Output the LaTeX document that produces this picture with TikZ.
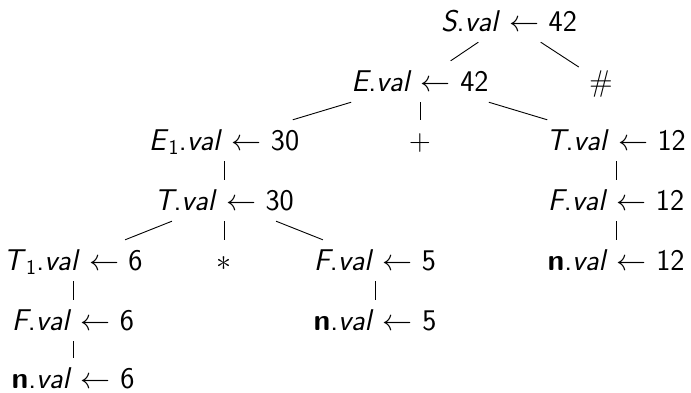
\RequirePackage{fix-cm}
\documentclass[tikz,border=0pt]{standalone}
\newcommand{\attr}[2]{#1.\textit{val} $\leftarrow$ #2}

\begin{document}
\begin{tikzpicture}[x=1pt, y=-1pt,
  val/.style={font=\fontsize{30}{36}\selectfont\sffamily, anchor=base,
    inner xsep=3pt, inner ysep=6pt, text height=24pt, text depth=5pt},
  edge/.style={line width=0.9pt}]
\useasboundingbox (0,0) rectangle (691,392);
\node[val] (s) at (509,31) {\attr{\textit{S}}{42}};
\node[val] (e) at (420,91) {\attr{\textit{E}}{42}};
\node[val, minimum width=44pt] (hash) at (601,91) {$\#$};
\node[val] (e1) at (224,150) {\attr{\textit{E}\textsubscript{1}}{30}};
\node[val] (plus) at (420,150) {$+$};
\node[val] (t12) at (616,150) {\attr{\textit{T}}{12}};
\node[val] (t30) at (224,210) {\attr{\textit{T}}{30}};
\node[val] (f12) at (616,210) {\attr{\textit{F}}{12}};
\node[val] (t1) at (73,270) {\attr{\textit{T}\textsubscript{1}}{6}};
\node[val] (star) at (224,270) {$\ast$};
\node[val] (f5) at (375,270) {\attr{\textit{F}}{5}};
\node[val] (n12) at (616,270) {\attr{\textbf{n}}{12}};
\node[val] (f6) at (73,330) {\attr{\textit{F}}{6}};
\node[val] (n5) at (375,330) {\attr{\textbf{n}}{5}};
\node[val] (n6) at (73,388) {\attr{\textbf{n}}{6}};
\draw[edge] (s) -- (e);
\draw[edge] (s) -- (hash);
\draw[edge] (e) -- (e1);
\draw[edge] (e) -- (plus);
\draw[edge] (e) -- (t12);
\draw[edge] (e1) -- (t30);
\draw[edge] (t12) -- (f12);
\draw[edge] (t30) -- (t1);
\draw[edge] (t30) -- (star);
\draw[edge] (t30) -- (f5);
\draw[edge] (f12) -- (n12);
\draw[edge] (t1) -- (f6);
\draw[edge] (f5) -- (n5);
\draw[edge] (f6) -- (n6);
\end{tikzpicture}
\end{document}
